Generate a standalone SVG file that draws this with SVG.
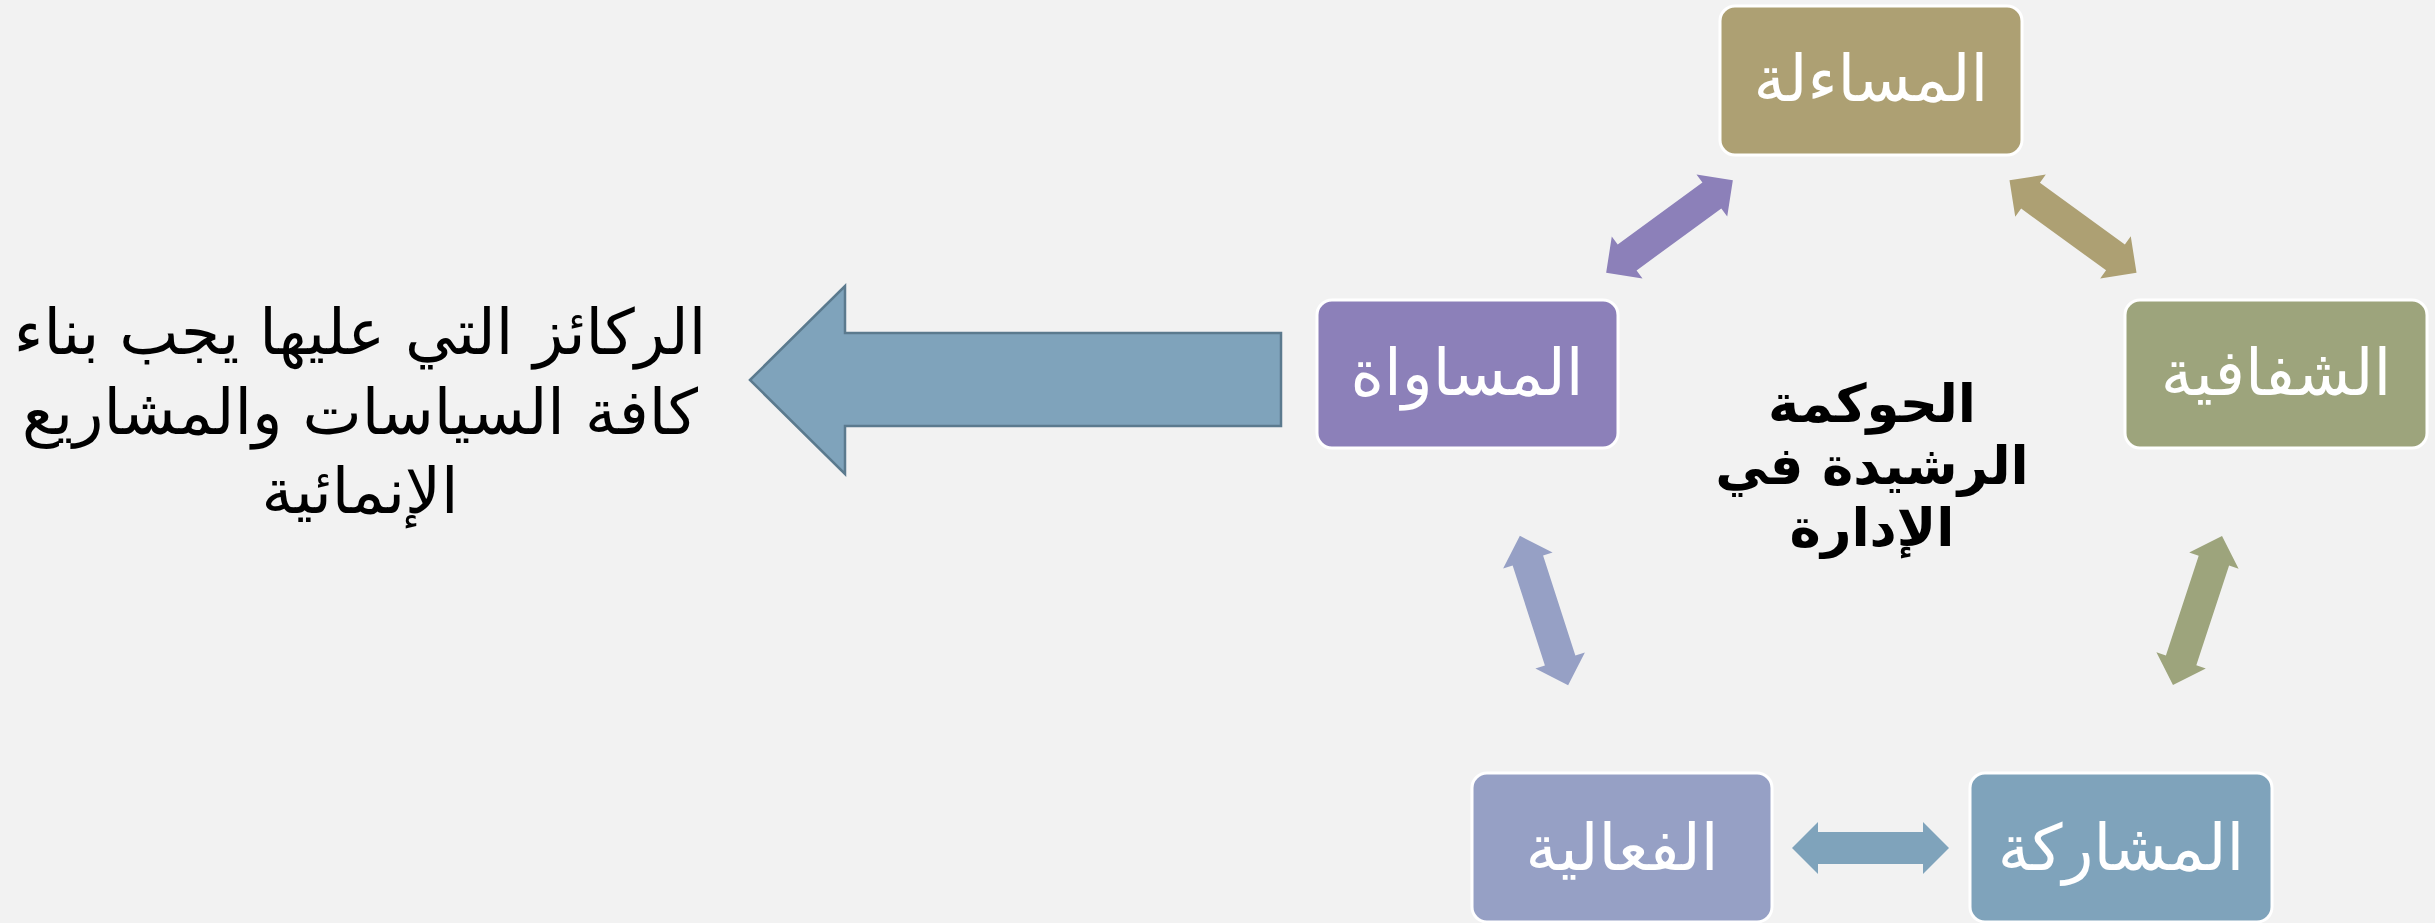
<svg xmlns="http://www.w3.org/2000/svg" width="2435" height="923" viewBox="0 0 2435 923">
<style>
.bg{fill:#f2f2f2}
.box{stroke:#ffffff;stroke-width:3}
.lbl{font-family:"DejaVu Sans","Noto Sans",sans-serif;font-size:64px;fill:#ffffff;text-anchor:middle}
.ctr{font-family:"DejaVu Sans","Noto Sans",sans-serif;font-size:53px;font-weight:bold;fill:#000000;text-anchor:middle}
.side{font-family:"DejaVu Sans","Noto Sans",sans-serif;font-size:63px;fill:#000000;text-anchor:middle}
</style>
<defs>
<path id="dbl" d="M-78.5,0 L-52.5,-26 L-52.5,-16 L52.5,-16 L52.5,-26 L78.5,0 L52.5,26 L52.5,16 L-52.5,16 L-52.5,26 Z"/>
</defs>
<rect class="bg" x="0" y="0" width="2435" height="923"/>
<g id="connectors">
<use href="#dbl" fill="#8c80b9" transform="translate(1669.5,226.5) rotate(-36.2)"/>
<use href="#dbl" fill="#ada073" transform="translate(2073,226.5) rotate(36)"/>
<use href="#dbl" fill="#96a0c5" transform="translate(1544,610.5) rotate(72.1)"/>
<use href="#dbl" fill="#9da47c" transform="translate(2197.5,610.5) rotate(108.2)"/>
<use href="#dbl" fill="#7fa3bb" transform="translate(1870.5,848)"/>
<polygon id="big-arrow" points="750,380 845,286 845,333 1281,333 1281,426 845,426 845,474" fill="#7fa3bb" stroke="#5b7a8e" stroke-width="2.5"/>
</g>
<g id="node-accountability">
<rect class="box" x="1720" y="6" width="302" height="149" rx="15" fill="#ada073"/>
<text class="lbl" x="1871" y="101">المساءلة</text>
</g>
<g id="node-equality">
<rect class="box" x="1317" y="300" width="301" height="148" rx="15" fill="#8c80b9"/>
<text class="lbl" x="1467" y="395">المساواة</text>
</g>
<g id="node-transparency">
<rect class="box" x="2125" y="300" width="302" height="148" rx="15" fill="#9da47c"/>
<text class="lbl" x="2276" y="395">الشفافية</text>
</g>
<g id="node-effectiveness">
<rect class="box" x="1472" y="773" width="300" height="149" rx="15" fill="#96a0c5"/>
<text class="lbl" x="1622" y="870">الفعالية</text>
</g>
<g id="node-participation">
<rect class="box" x="1970" y="773" width="302" height="149" rx="15" fill="#7fa3bb"/>
<text class="lbl" x="2121" y="870">المشاركة</text>
</g>
<g id="node-center">
<text class="ctr" x="1872" y="422">الحوكمة</text>
<text class="ctr" x="1872" y="484">الرشيدة في</text>
<text class="ctr" x="1872" y="546">الإدارة</text>
</g>
<g id="node-side">
<text class="side" x="360" y="354">الركائز التي عليها يجب بناء</text>
<text class="side" x="360" y="434">كافة السياسات والمشاريع</text>
<text class="side" x="360" y="513">الإنمائية</text>
</g>
</svg>
